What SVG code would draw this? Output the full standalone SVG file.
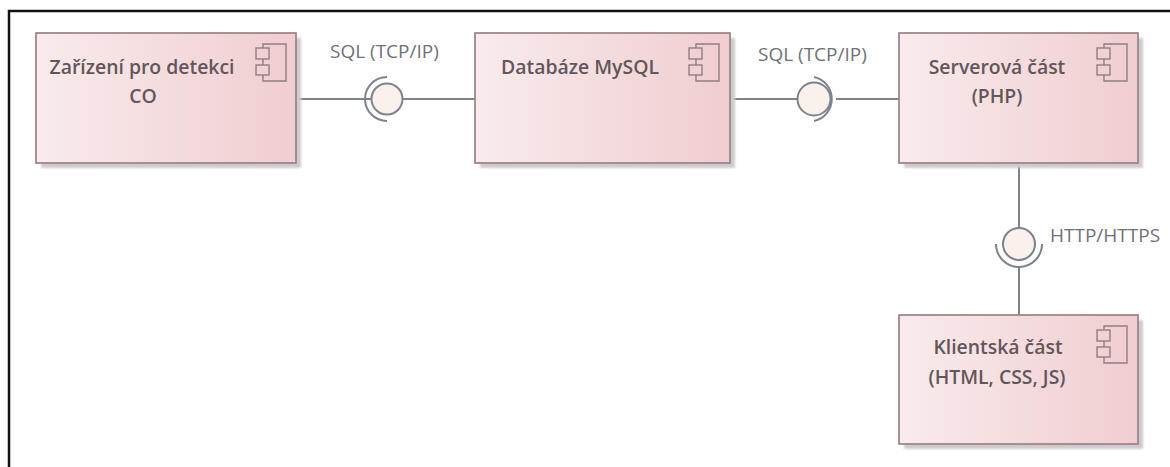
<svg xmlns="http://www.w3.org/2000/svg" width="1170" height="467" viewBox="0 0 1170 467">
<style>
.box{stroke:#9a8286;stroke-width:1.7}
.shadow{fill:#cfcbcc;filter:url(#blur)}
.icon{fill:none;stroke:#8f7f82;stroke-width:1.4}
.t{font-family:"Open Sans","Liberation Sans",sans-serif;font-size:19.4px;font-weight:600;fill:#62565a;text-anchor:middle}
.l{font-family:"Open Sans","Liberation Sans",sans-serif;font-size:19px;fill:#6f7176}
.c{fill:none;stroke:#7d838c;stroke-width:2}
.ball{fill:#faf0ec;stroke:#7d838c;stroke-width:2}
</style>
<defs>
<linearGradient id="g"><stop offset="0" stop-color="#f9ebec"/><stop offset="1" stop-color="#f0cdd0"/></linearGradient>
<filter id="blur" x="-5%" y="-5%" width="110%" height="110%"><feGaussianBlur stdDeviation="1.2"/></filter>
<g id="ico"><path class="icon" d="M-23 4V0H0V37H-23V31M-23 15V21"/><rect class="icon" x="-30" y="4" width="13" height="11"/><rect class="icon" x="-30" y="21" width="13" height="10"/></g>
</defs>
<rect width="1170" height="467" fill="#fff"/>
<path d="M9 467V11H1170" fill="none" stroke="#111" stroke-width="2.5"/>
<g id="connectors">
<path class="c" d="M296 99H372M402 99H475"/>
<path class="c" d="M730 99H797M836 99H899"/>
<path class="c" d="M1019 163V228M1019 267V315"/>
</g>
<g id="iface1"><circle class="ball" cx="387" cy="99" r="15.5"/><path class="c" d="M387 77A22 22 0 0 0 387 121"/></g>
<g id="iface2"><circle class="ball" cx="814" cy="99" r="16.5"/><path class="c" d="M814 77A22.5 22.5 0 0 1 814 121"/></g>
<g id="iface3"><circle class="ball" cx="1019" cy="244" r="16"/><path class="c" d="M996 244A23 23 0 0 0 1042 244"/></g>
<g id="node-device"><rect class="shadow" x="41" y="38" width="260" height="130"/><rect class="box" x="36" y="33" width="260" height="130" fill="url(#g)"/><use href="#ico" x="286" y="44"/><text class="t" x="142" y="73.5">Zařízení pro detekci</text><text class="t" x="143" y="102.5">CO</text></g>
<g id="node-db"><rect class="shadow" x="480" y="38" width="255" height="130"/><rect class="box" x="475" y="33" width="255" height="130" fill="url(#g)"/><use href="#ico" x="719" y="44"/><text class="t" x="580" y="73.5">Databáze MySQL</text></g>
<g id="node-server"><rect class="shadow" x="904" y="38" width="239" height="130"/><rect class="box" x="899" y="33" width="239" height="130" fill="url(#g)"/><use href="#ico" x="1127" y="44"/><text class="t" x="997" y="73.5">Serverová část</text><text class="t" x="997" y="102.5">(PHP)</text></g>
<g id="node-client"><rect class="shadow" x="904" y="320" width="239" height="129"/><rect class="box" x="899" y="315" width="239" height="129" fill="url(#g)"/><use href="#ico" x="1127" y="326"/><text class="t" x="998" y="354">Klientská část</text><text class="t" x="997" y="383.5">(HTML, CSS, JS)</text></g>
<g id="labels"><text class="l" x="330" y="58">SQL (TCP/IP)</text><text class="l" x="758" y="61">SQL (TCP/IP)</text><text class="l" x="1050" y="242">HTTP/HTTPS</text></g>
</svg>
